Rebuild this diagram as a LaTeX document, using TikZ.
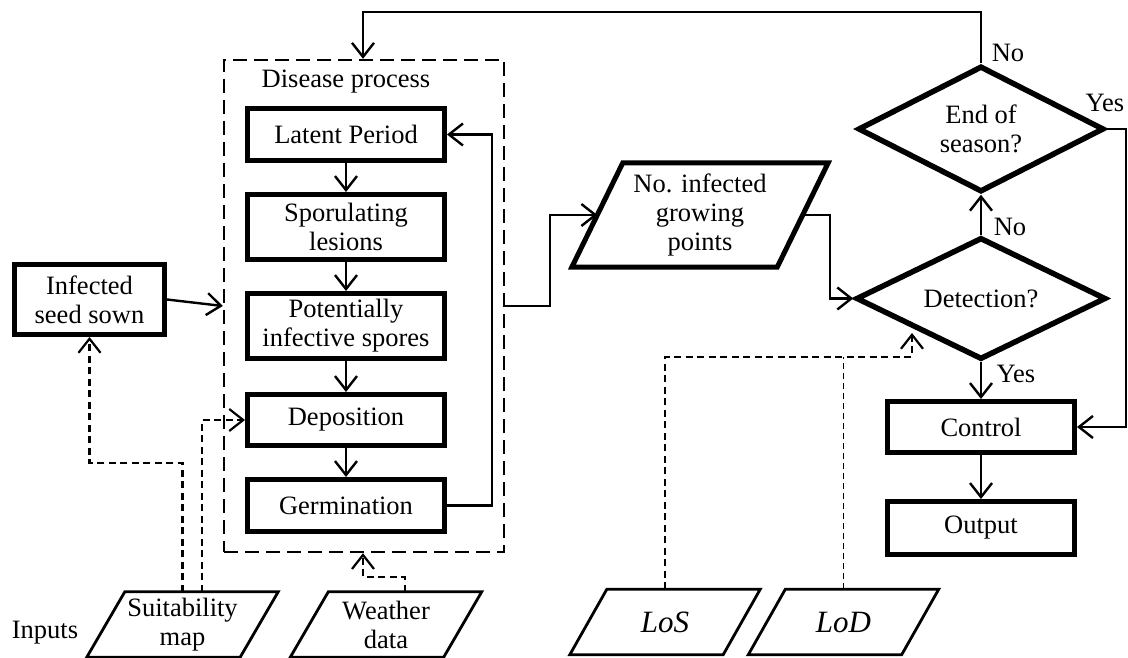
\documentclass[tikz,border=0pt]{standalone}
\usepackage{fontspec}
\setmainfont{Liberation Serif}
\usetikzlibrary{arrows.meta,shapes.geometric,calc}
\newcommand\drawslant[3]{%
  \draw[line width=#3, line join=miter]
    ($(#1.south west)+(-#2,0)$) -- ($(#1.north west)+(#2,0)$) --
    ($(#1.north east)+(#2,0)$) -- ($(#1.south east)+(-#2,0)$) -- cycle;}
\begin{document}
\begin{tikzpicture}[x=1pt,y=-1pt,
  every node/.style={font=\fontsize{26.5}{29}\selectfont, align=center, inner sep=0pt},
  pbox/.style={draw, line width=5pt, minimum width=197pt},
  slantbox/.style={minimum width=153pt, minimum height=65pt},
  dia/.style={diamond, aspect=2, draw, line width=5.5pt, minimum width=246pt, minimum height=126pt},
  arr/.style={line width=2.4pt, -{Straight Barb[length=14pt,width=22pt]}},
  darr/.style={line width=2.2pt, dash pattern=on 7pt off 4.5pt, -{Straight Barb[length=14pt,width=22pt]}},
  dlod/.style={line width=1.7pt, dash pattern=on 6pt off 4pt},
  contbox/.style={draw, line width=2.4pt, dash pattern=on 14pt off 7pt},
  mathlbl/.style={font=\fontsize{31}{33}\selectfont\itshape}
]
\useasboundingbox (0,0) rectangle (1128,658);

% disease process container and boxes
\node[contbox, minimum width=280pt, minimum height=492pt] (cont) at (364,306) {};
\node (dplabel) at (346,82) {Disease process};
\node[pbox, minimum height=52pt] (latent) at (346,134.5) {Latent Period};
\node[pbox, minimum height=65pt] (spor) at (346,227) {Sporulating\\lesions};
\node[pbox, minimum height=65pt] (pot) at (346,326) {Potentially\\infective spores};
\node[pbox, minimum height=51pt] (dep) at (346,420) {Deposition};
\node[pbox, minimum height=52pt] (germ) at (346,505.5) {Germination};

\node[pbox, minimum width=150pt, minimum height=70pt] (seed) at (89.5,299.5) {Infected\\seed sown};

\node[minimum width=205pt, minimum height=104pt] (para) at (700,215) {No. infected\\growing\\points};
\drawslant{para}{25.5}{5pt}

\node[dia] (eos) at (981,129) {End of\\season?};
\node[dia, minimum width=250pt, minimum height=122pt] (det) at (981,298.5) {Detection?};
\node[pbox, minimum width=187pt, minimum height=51pt] (ctrl) at (981,427) {Control};
\node[pbox, minimum width=187pt, minimum height=53pt] (out) at (981,528) {Output};

% inputs
\node (inputs) at (45,633) {Inputs};
\node[slantbox] (suit) at (182.5,624.5) {Suitability\\map};
\drawslant{suit}{19}{2.8pt}
\node[slantbox] (wea) at (386,624.5) {Weather\\data};
\drawslant{wea}{19}{2.8pt}
\node[slantbox, mathlbl] (los) at (665,622) {LoS};
\drawslant{los}{18.5}{2.8pt}
\node[slantbox, mathlbl] (lod) at (843.5,622) {LoD};
\drawslant{lod}{18.5}{2.8pt}

% labels
\node (no1) at (1008,53) {No};
\node (yes1) at (1105,103) {Yes};
\node (no2) at (1010,227) {No};
\node (yes2) at (1016,374) {Yes};

% solid connectors
\draw[arr] (latent.south) -- (spor.north);
\draw[arr] (spor.south) -- (pot.north);
\draw[arr] (pot.south) -- (dep.north);
\draw[arr] (dep.south) -- (germ.north);

\coordinate (fb) at (492,505.5);
\draw[arr] (germ.east) -- (fb) |- (latent.east);

\draw[arr] (seed.east) -- (cont.west);

\coordinate (cp) at (550,215);
\draw[arr] (cont.east) -| (cp) -- (para.west);

\coordinate (pd) at (830,215);
\draw[arr] (para.east) -- (pd) |- (det.west);

\draw[arr] (det.north) -- (eos.south);
\draw[arr] (det.south) -- (ctrl.north);
\draw[arr] (ctrl.south) -- (out.north);

\coordinate (yesR) at (1126,129);
\draw[arr] (eos.east) -- (yesR) |- (ctrl.east);

\coordinate (topL) at (363,12);
\draw[arr] (eos.north) |- (topL) -- (topL |- cont.north);

% dashed input connectors
\coordinate (sA) at (89.5,463);
\draw[darr] (suit.north) |- (sA) -- (seed.south);
\draw[darr] ($(suit.north)+(19.5,0)$) |- (dep.west);

\coordinate (wc) at (363,577);
\draw[darr] ($(wea.north)+(19,0)$) |- (wc) -- (wc |- cont.south);

\coordinate (lc) at (912,357);
\coordinate (lt) at (912,333);
\draw[darr] (los.north) |- (lc) -- (lt);
\draw[dlod] (lod.north) -- (lod.north |- lc);
\end{tikzpicture}
\end{document}
